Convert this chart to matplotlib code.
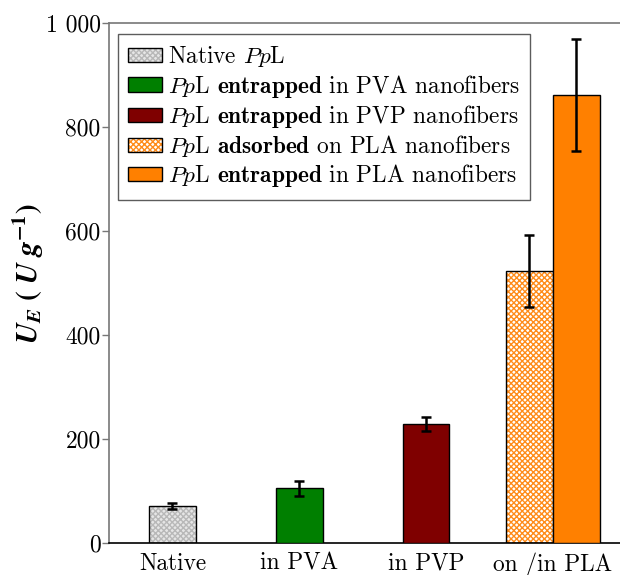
import matplotlib
matplotlib.use("Agg")
import matplotlib.pyplot as plt
from matplotlib.patches import Rectangle
from matplotlib.legend_handler import HandlerTuple

plt.rcParams['font.family'] = ['cmr10', 'DejaVu Serif']
plt.rcParams['mathtext.fontset'] = 'cm'
plt.rcParams['hatch.linewidth'] = 1.0

categories = ['Native', 'in PVA', 'in PVP', 'on /in PLA']
series_labels = [r'Native $\mathit{Pp}$L',
                 r'$\mathit{Pp}$L $\mathbf{entrapped}$ in PVA nanofibers',
                 r'$\mathit{Pp}$L $\mathbf{entrapped}$ in PVP nanofibers',
                 r'$\mathit{Pp}$L $\mathbf{adsorbed}$ on PLA nanofibers',
                 r'$\mathit{Pp}$L $\mathbf{entrapped}$ in PLA nanofibers']
values = [71, 105, 229, 523, 862]
errors = [6, 14, 14, 70, 108]
cat_index = [0, 1, 2, 3, 3]
offsets = [0.0, 0.0, 0.0, -0.185, 0.185]
ytick_values = [0, 200, 400, 600, 800, 1000]
ytick_labels = ['0', '200', '400', '600', '800', '1 000']

faces = ['#e6e6e6', '#007f00', '#7f0000', '#ffffff', '#ff8000']
hatch_col = ['#b8b8b8', None, None, '#ff8c1a', None]
hatches = ['xxxxxx', None, None, 'xxxxxx', None]

fig = plt.figure(figsize=(6.2, 5.75), dpi=100)
ax = fig.add_axes([109/620, 1-543/575, 1-109/620, (543-23)/575])

width = 0.37
handles = []
for i in range(len(values)):
    x = cat_index[i] + offsets[i]
    if hatches[i]:
        ax.bar(x, values[i], width=width, color=faces[i], edgecolor=hatch_col[i],
               hatch=hatches[i], linewidth=0, zorder=2)
        ax.bar(x, values[i], width=width, fill=False, edgecolor='black',
               linewidth=1.0, zorder=3)
        h = (Rectangle((0, 0), 1, 1, facecolor=faces[i], edgecolor=hatch_col[i],
                       hatch=hatches[i], linewidth=0),
             Rectangle((0, 0), 1, 1, fill=False, edgecolor='black', linewidth=1.0))
    else:
        ax.bar(x, values[i], width=width, color=faces[i], edgecolor='black',
               linewidth=1.0, zorder=3)
        h = Rectangle((0, 0), 1, 1, facecolor=faces[i], edgecolor='black', linewidth=1.0)
    ax.errorbar(x, values[i], yerr=errors[i], fmt='none', ecolor='black',
                elinewidth=1.8, capsize=3.8, capthick=1.8, zorder=4)
    handles.append(h)

ax.set_xlim(-0.5, 3.53)
ax.set_ylim(0, 1000)
ax.set_xticks(range(len(categories)))
ax.set_xticklabels(categories)
ax.set_yticks(ytick_values)
ax.set_yticklabels(ytick_labels)
ax.tick_params(axis='x', labelsize=16.8, length=0, pad=7)
ax.tick_params(axis='y', labelsize=17, length=5, direction='out', color='#777777',
               width=1, pad=1)

for s in ['left', 'top']:
    ax.spines[s].set_color('#777777')
    ax.spines[s].set_linewidth(1.2)
ax.spines['bottom'].set_color('black')
ax.spines['bottom'].set_linewidth(1.2)
ax.spines['right'].set_visible(False)

ax.set_ylabel(r'$\mathbfit{U_E}\ \mathbf{(}\ \mathbfit{U\ g}^{\mathbf{-1}}\mathbf{)}$',
              fontsize=21, math_fontfamily='stix')
ax.yaxis.set_label_coords(-0.123, 0.517)

leg = ax.legend(handles, series_labels, handler_map={tuple: HandlerTuple(ndivide=1)},
                loc='upper left', bbox_to_anchor=(0.0176, 0.979), fontsize=16.8,
                frameon=True, fancybox=False, edgecolor='#333333',
                handlelength=1.42, handleheight=0.56, handletextpad=0.26,
                labelspacing=0.14, borderpad=0.45, borderaxespad=0.0)
leg.get_frame().set_linewidth(1.0)

fig.savefig('out.png', dpi=100)
